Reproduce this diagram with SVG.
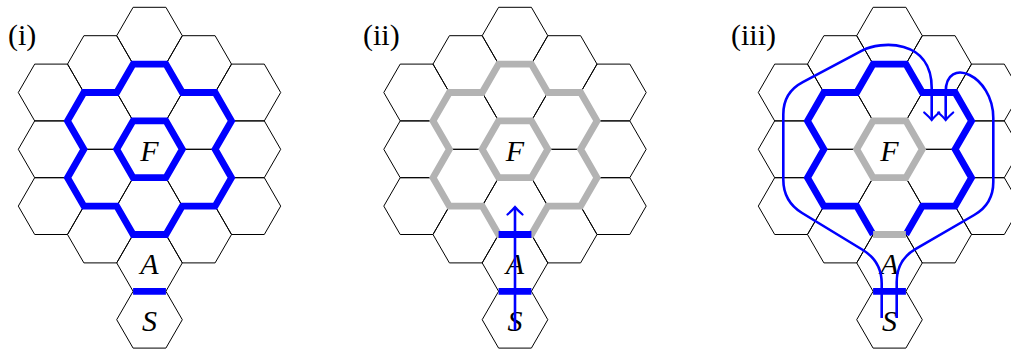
<svg xmlns="http://www.w3.org/2000/svg" xmlns:xlink="http://www.w3.org/1999/xlink" width="1011" height="351" viewBox="0 0 1011 351">
<style>
.hex{fill:none;stroke:#000;stroke-width:1}
.thick{fill:none;stroke-width:6.8;stroke-linejoin:miter;stroke-linecap:butt;stroke-miterlimit:10}
.blue{stroke:#0000ff}
.gray{stroke:#b3b3b3}
.thin{fill:none;stroke:#0000ff;stroke-width:2.6}
.lbl{font-family:"Liberation Serif",serif;font-size:30px;fill:#000}
.node{font-family:"Liberation Serif",serif;font-style:italic;font-size:30px;text-anchor:middle;fill:#000}
</style>
<defs>
<path id="hex" d="M-32.8 0L-16.4-28.4L16.4-28.4L32.8 0L16.4 28.4L-16.4 28.4Z"/>
<g id="grid">
<use xlink:href="#hex" x="0" y="-113.6"/>
<use xlink:href="#hex" x="0" y="-56.8"/>
<use xlink:href="#hex" x="0" y="56.8"/>
<use xlink:href="#hex" x="-49.2" y="-85.2"/>
<use xlink:href="#hex" x="-49.2" y="-28.4"/>
<use xlink:href="#hex" x="-49.2" y="28.4"/>
<use xlink:href="#hex" x="-49.2" y="85.2"/>
<use xlink:href="#hex" x="49.2" y="-85.2"/>
<use xlink:href="#hex" x="49.2" y="-28.4"/>
<use xlink:href="#hex" x="49.2" y="28.4"/>
<use xlink:href="#hex" x="49.2" y="85.2"/>
<use xlink:href="#hex" x="-98.4" y="-56.8"/>
<use xlink:href="#hex" x="-98.4" y="0"/>
<use xlink:href="#hex" x="-98.4" y="56.8"/>
<use xlink:href="#hex" x="98.4" y="-56.8"/>
<use xlink:href="#hex" x="98.4" y="0"/>
<use xlink:href="#hex" x="98.4" y="56.8"/>
</g>
<path id="flower" d="M-16.4-85.2L16.4-85.2L32.8-56.8L65.6-56.8L82-28.4L65.6 0L82 28.4L65.6 56.8L32.8 56.8L16.4 85.2L-16.4 85.2L-32.8 56.8L-65.6 56.8L-82 28.4L-65.6 0L-82-28.4L-65.6-56.8L-32.8-56.8Z"/>
<path id="flowerOpen" d="M16.4 85.2L32.8 56.8L65.6 56.8L82 28.4L65.6 0L82-28.4L65.6-56.8L32.8-56.8L16.4-85.2L-16.4-85.2L-32.8-56.8L-65.6-56.8L-82-28.4L-65.6 0L-82 28.4L-65.6 56.8L-32.8 56.8L-16.4 85.2"/>
<marker id="arr" markerUnits="userSpaceOnUse" orient="auto" markerWidth="20" markerHeight="20" viewBox="-10 -10 20 20" refX="0" refY="0" overflow="visible">
<path d="M-7.5-7.5Q-2.5-2 0 0Q-2.5 2-7.5 7.5" fill="none" stroke="#0000ff" stroke-width="2.2" stroke-linecap="round"/>
</marker>
</defs>

<!-- Panel (i) -->
<g id="panel1">
<text class="lbl" x="8" y="45">(i)</text>
<g transform="translate(149.5 149.3)">
<use id="p1-grid" xlink:href="#grid" class="hex"/>
<g id="p1-F"><use xlink:href="#hex" class="hex"/></g>
<g id="p1-A"><use xlink:href="#hex" class="hex" y="113.6"/></g>
<g id="p1-S"><use xlink:href="#hex" class="hex" y="170.4"/></g>
<g id="p1-edges">
<use xlink:href="#flower" class="thick blue"/>
<use xlink:href="#hex" class="thick blue"/>
<path class="thick blue" d="M-16.4 142H16.4"/>
</g>
<text class="node" x="0" y="12">F</text>
<text class="node" x="0" y="124.7">A</text>
<text class="node" x="0" y="181.7">S</text>
</g>
</g>

<!-- Panel (ii) -->
<g id="panel2">
<text class="lbl" x="363" y="45">(ii)</text>
<g transform="translate(515 149.3)">
<use id="p2-grid" xlink:href="#grid" class="hex"/>
<g id="p2-F"><use xlink:href="#hex" class="hex"/></g>
<g id="p2-A"><use xlink:href="#hex" class="hex" y="113.6"/></g>
<g id="p2-S"><use xlink:href="#hex" class="hex" y="170.4"/></g>
<g id="p2-edges">
<use xlink:href="#flower" class="thick gray"/>
<use xlink:href="#hex" class="thick gray"/>
<path class="thick blue" d="M-16.4 85.2H16.4M-16.4 142H16.4"/>
</g>
<text class="node" x="0" y="12">F</text>
<text class="node" x="0" y="124.7">A</text>
<text class="node" x="0" y="181.7">S</text>
</g>
</g>

<!-- Panel (iii) -->
<g id="panel3">
<text class="lbl" x="731" y="45">(iii)</text>
<g transform="translate(889.5 149.3)">
<use id="p3-grid" xlink:href="#grid" class="hex"/>
<g id="p3-F"><use xlink:href="#hex" class="hex"/></g>
<g id="p3-A"><use xlink:href="#hex" class="hex" y="113.6"/></g>
<g id="p3-S"><use xlink:href="#hex" class="hex" y="170.4"/></g>
<g id="p3-edges">
<use xlink:href="#flowerOpen" class="thick blue"/>
<path class="thick gray" d="M-16.4 85.2H16.4"/>
<use xlink:href="#hex" class="thick gray"/>
<path class="thick blue" d="M-16.4 142H16.4"/>
</g>
<text class="node" x="0" y="12">F</text>
<text class="node" x="0" y="124.7">A</text>
<text class="node" x="0" y="181.7">S</text>
</g>
</g>

<g id="connectors">
<path class="thin" marker-end="url(#arr)" d="M515 330V207"/>
<path class="thin" marker-end="url(#arr)" d="M881.7 318L881.7 283.5Q881.7 261.5 862.9 250L802.1 213Q783.3 201.5 783.3 179.5L783.3 114.4Q783.3 92.4 802.8 82.2L862 50.6C880 41 931.7 38 931.7 88L931.7 120"/>
<path class="thin" marker-end="url(#arr)" d="M896.7 318L896.7 281.9Q896.7 259.9 915.8 248.9L974.2 215Q993.3 204 993.3 182L993.3 118C993.3 75 945.7 55 945.7 92L945.7 120"/>
</g>
</svg>
